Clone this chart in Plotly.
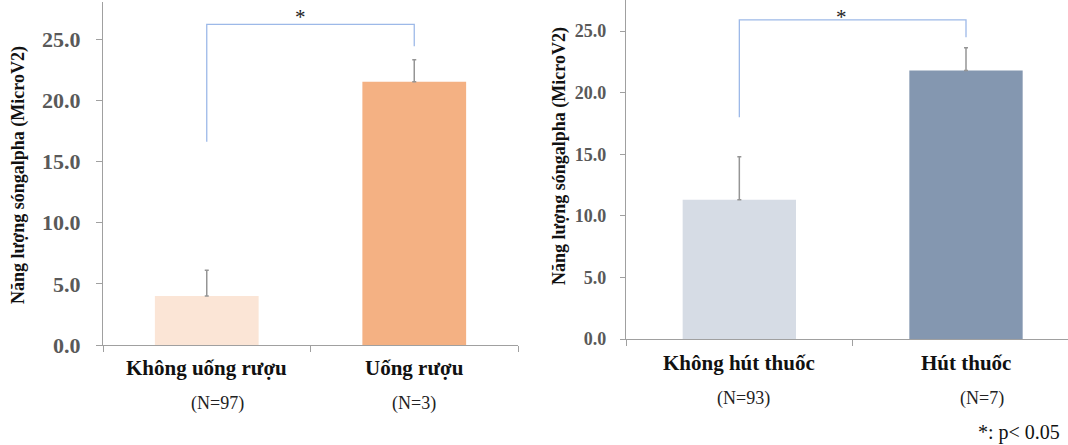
import plotly.graph_objects as go

# ---- data ----
alc_categories = ["Không uống rượu", "Uống rượu"]
alc_n = ["(N=97)", "(N=3)"]
alc_values = [4.0, 21.5]
alc_errors = [2.1, 1.8]

smk_categories = ["Không hút thuốc", "Hút thuốc"]
smk_n = ["(N=93)", "(N=7)"]
smk_values = [11.3, 21.8]
smk_errors = [3.5, 1.85]

y_ticks = [0, 5, 10, 15, 20, 25]
y_title = "Năng lượng sóngalpha (MicroV2)"
sig_note = "*: p< 0.05"

# brackets: (left bottom, top, right bottom)
alc_bracket = [16.6, 26.2, 24.4]
smk_bracket = [18.0, 25.9, 24.5]

W, H = 1068, 445
SERIF = "Liberation Serif, Times New Roman, serif"
AXIS_COL = "#A0A0A0"
ERR_COL = "#959595"
BRK_COL = "#9DB9E8"

fig = go.Figure()

fig.add_trace(go.Bar(
    x=[0, 1], y=alc_values, width=0.5,
    marker=dict(color=["#FBE5D6", "#F4B183"], line=dict(width=0)),
    error_y=dict(type="data", symmetric=False, array=alc_errors,
                 arrayminus=[0, 0], color=ERR_COL, thickness=1.5, width=2),
    xaxis="x", yaxis="y", showlegend=False, hoverinfo="skip"))

fig.add_trace(go.Bar(
    x=[0, 1], y=smk_values, width=0.5,
    marker=dict(color=["#D6DCE5", "#8497B0"], line=dict(width=0)),
    error_y=dict(type="data", symmetric=False, array=smk_errors,
                 arrayminus=[0, 0], color=ERR_COL, thickness=1.5, width=2),
    xaxis="x2", yaxis="y2", showlegend=False, hoverinfo="skip"))

def px_x(p):
    return p / W

def px_y(p):
    return (H - p) / H

# left panel: y=0 at 345px, 12.24 px/unit
L_y0, L_unit, L_ymax = 345, 12.24, 28
# right panel: y=0 at 339px, 12.32 px/unit
R_y0, R_unit, R_ymax = 339, 12.32, 27.5

axis_common = dict(showgrid=False, zeroline=False, showline=True, automargin=False,
                   linecolor=AXIS_COL, linewidth=1.3, ticks="outside",
                   tickcolor=AXIS_COL, tickwidth=1.3)
xaxis_common = dict(tickvals=[-0.5, 0.5, 1.5], showticklabels=False, ticklen=6,
                    **axis_common)

fig.update_layout(
    width=W, height=H, autosize=False,
    margin=dict(l=0, r=0, t=0, b=0, pad=0, autoexpand=False),
    paper_bgcolor="white", plot_bgcolor="rgba(0,0,0,0)",
    xaxis=dict(domain=[px_x(103), px_x(518)], range=[-0.5, 1.5], anchor="y",
               **xaxis_common),
    yaxis=dict(domain=[px_y(L_y0), px_y(L_y0 - L_ymax * L_unit)],
               range=[0, L_ymax], anchor="x", ticklen=6, ticklabelstandoff=11,
               tickvals=y_ticks, ticktext=[f"{v:.1f}" for v in y_ticks],
               tickfont=dict(family=SERIF, size=22, color="#595959", weight="bold"),
               **axis_common),
    xaxis2=dict(domain=[px_x(626), 1.0], range=[-0.5, 1.45], anchor="y2",
                **xaxis_common),
    yaxis2=dict(domain=[px_y(R_y0), px_y(R_y0 - R_ymax * R_unit)],
                range=[0, R_ymax], anchor="x2", ticklen=5, ticklabelstandoff=10,
                tickvals=y_ticks, ticktext=[f"{v:.1f}" for v in y_ticks],
                tickfont=dict(family=SERIF, size=18, color="#595959", weight="bold"),
                **axis_common),
)

# significance brackets
for xr, yr, (lb, top, rb) in [("x", "y", alc_bracket), ("x2", "y2", smk_bracket)]:
    fig.add_shape(type="path", xref=xr, yref=yr,
                  path=f"M 0,{lb} L 0,{top} L 1,{top} L 1,{rb}",
                  line=dict(color=BRK_COL, width=1.3))
    fig.add_annotation(x=0.45, y=px_y(17), xref=xr, yref="paper", text="*",
                       showarrow=False, yanchor="middle",
                       font=dict(family=SERIF, size=21, color="#222222"))

# category labels and N labels
for xr, cats, ns, ypx, npx, noff in [
        ("x", alc_categories, alc_n, 368, 403, [0.05, 0.0]),
        ("x2", smk_categories, smk_n, 363, 398, [0.02, 0.07])]:
    for i, (c, n) in enumerate(zip(cats, ns)):
        fig.add_annotation(x=i, y=px_y(ypx), xref=xr, yref="paper", text=f"<b>{c}</b>",
                           showarrow=False, yanchor="middle",
                           font=dict(family=SERIF, size=21, color="#111111"))
        fig.add_annotation(x=i + noff[i], y=px_y(npx), xref=xr, yref="paper", text=n,
                           showarrow=False, yanchor="middle",
                           font=dict(family=SERIF, size=18, color="#222222"))

# y axis titles
for xpx, ypx in [(19, 175), (560, 156)]:
    fig.add_annotation(x=px_x(xpx), y=px_y(ypx), xref="paper", yref="paper",
                       text=f"<b>{y_title}</b>", textangle=-90, showarrow=False,
                       xanchor="center", yanchor="middle",
                       font=dict(family=SERIF, size=18, color="#111111"))

fig.add_annotation(x=px_x(1062), y=px_y(432), xref="paper", yref="paper",
                   text=sig_note, showarrow=False, xanchor="right", yanchor="middle",
                   font=dict(family=SERIF, size=20, color="#111111"))

post = """
document.documentElement.style.margin = '0';
document.documentElement.style.overflow = 'hidden';
document.body.style.margin = '0';
document.body.style.overflow = 'hidden';
"""

fig.write_html("out.html", config={"displayModeBar": False}, post_script=post)
